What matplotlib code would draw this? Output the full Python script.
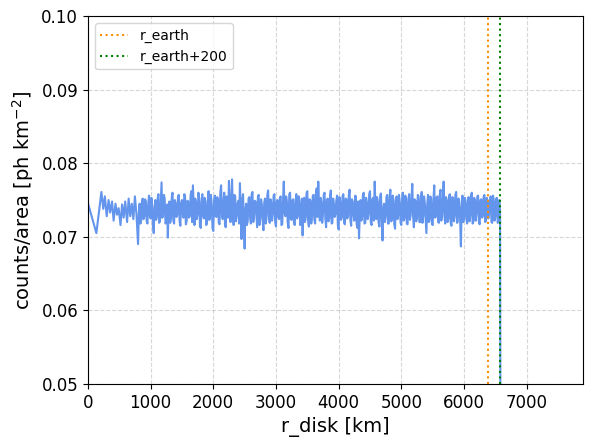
import numpy as np
import matplotlib.pyplot as plt

r_earth = 6378.
r_max = r_earth + 200

# inner bins (sparse, km) and their counts/area (x1e-4)
r_inner = [0, 135, 215, 245, 270, 300, 330, 355, 385, 410, 440, 465,
           490, 520, 545, 570, 595, 625, 650, 675, 700, 725, 750, 775]
v_inner = [746, 705, 761, 738, 755, 728, 750, 733, 748, 722, 745, 730,
           739, 716, 744, 726, 748, 720, 752, 728, 745, 724, 755, 730]

# outer bins every 25 km from 800 km up to r_earth+200 (x1e-4)
v_outer = [
    690, 745, 722, 752, 728, 748, 718, 756, 725, 742,
    705, 750, 727, 758, 722, 774, 730, 752, 720, 699,
    748, 725, 760, 718, 745, 730, 757, 715, 750, 726,
    755, 721, 748, 728, 762, 770, 716, 744, 731, 753,
    712, 758, 725, 747, 719, 762, 730, 744, 708, 756,
    727, 751, 717, 770, 724, 760, 713, 748, 776, 720,
    778, 716, 755, 730, 749, 773, 697, 758, 684, 745,
    722, 754, 718, 761, 727, 748, 713, 757, 725, 744,
    709, 752, 726, 763, 719, 746, 731, 758, 714, 750,
    724, 755, 717, 775, 728, 747, 712, 760, 723, 751,
    716, 758, 729, 745, 720, 702, 753, 726, 762, 714,
    749, 727, 757, 718, 766, 775, 722, 746, 730, 760,
    713, 752, 725, 763, 719, 744, 731, 756, 710, 748,
    726, 758, 717, 751, 729, 764, 715, 747, 722, 755,
    712, 698, 750, 727, 760, 719, 746, 731, 762, 716,
    753, 775, 724, 748, 714, 759, 695, 745, 728, 757,
    718, 764, 723, 750, 711, 755, 729, 747, 716, 760,
    725, 752, 717, 758, 730, 772, 713, 749, 726, 755,
    720, 761, 728, 746, 705, 757, 723, 752, 716, 770,
    727, 755, 719, 764, 730, 775, 718, 750, 724, 758,
    715, 753, 728, 761, 720, 748, 687, 756, 725, 747,
    718, 754, 729, 760, 721, 749, 732, 756, 717, 751,
    728, 757, 722, 748, 733, 755, 719, 750, 727, 753,
    724, 736,
]
# bins halfway between the ones above (x1e-4)
v_outer_b = [
    733, 718, 749, 724, 751, 721, 745, 729, 753, 716,
    740, 723, 752, 719, 748, 726, 757, 718, 744, 735,
    719, 754, 722, 750, 727, 755, 721, 746, 731, 758,
    717, 749, 726, 756, 720, 741, 752, 724, 760, 715,
    747, 729, 753, 716, 750, 723, 757, 712, 749, 728,
    754, 719, 761, 731, 748, 715, 755, 726, 740, 752,
    728, 757, 721, 745, 718, 739, 750, 722, 737, 716,
    752, 726, 758, 720, 749, 731, 755, 716, 751, 723,
    746, 718, 757, 729, 751, 722, 756, 720, 748, 727,
    753, 716, 749, 732, 755, 719, 758, 724, 750, 719,
    748, 725, 755, 716, 752, 739, 720, 759, 722, 751,
    718, 756, 723, 759, 727, 741, 753, 719, 757, 725,
    749, 721, 755, 718, 752, 727, 749, 715, 754, 723,
    755, 719, 752, 725, 757, 722, 751, 729, 756, 717,
    748, 731, 722, 757, 718, 753, 724, 758, 720, 751,
    722, 740, 754, 719, 756, 724, 739, 720, 754, 718,
    753, 721, 756, 717, 749, 724, 757, 719, 753, 722,
    756, 718, 751, 723, 754, 728, 751, 721, 757, 720,
    752, 719, 755, 724, 743, 720, 755, 718, 751, 726,
    753, 720, 757, 722, 751, 728, 754, 720, 756, 719,
    754, 721, 757, 719, 752, 725, 739, 720, 753, 724,
    752, 721, 757, 718, 753, 722, 755, 720, 750, 726,
    754, 720, 753, 725, 751, 720, 756, 722, 752, 719,
    750, 731,
]
r_a = 800 + 25*np.arange(len(v_outer))
r_outer = np.column_stack([r_a, r_a + 12.5]).ravel()[:-1]
v_out = np.column_stack([v_outer, v_outer_b]).ravel()[:-1]

# outside the disk there are no counts
r_beyond = [6590, 7900]
v_beyond = [0, 0]

r = np.concatenate([r_inner, r_outer, r_beyond])
counts_area = np.concatenate([v_inner, v_out, v_beyond]) * 1e-4

fig = plt.figure(figsize=(5.94, 4.45), dpi=100)
plt.subplots_adjust(left=0.148, right=0.981, bottom=0.137, top=0.964)

plt.plot(r, counts_area, color='cornflowerblue', lw=1.5)
plt.axvline(r_earth, color='darkorange', ls=':', lw=1.5, label='r_earth')
plt.axvline(r_max, color='green', ls=':', lw=1.5, label='r_earth+200')

plt.xlim(0, r_max*1.2)
plt.ylim(0.05, 0.10)
plt.grid(ls='--', alpha=0.5)
plt.xticks(fontsize=12)
plt.yticks(fontsize=12)
plt.xlabel('r_disk [km]', fontsize=14)
plt.ylabel('counts/area [ph km$^{-2}$]', fontsize=14)
plt.legend(loc='upper left', fontsize=10)
plt.savefig('out.png')
